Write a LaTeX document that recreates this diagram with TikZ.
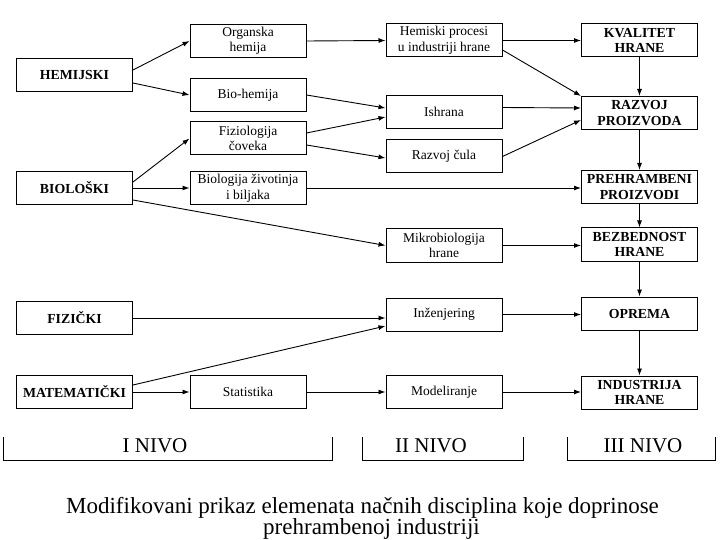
\documentclass[tikz,border=0pt]{standalone}
\usepackage{fontspec}
\setmainfont{Liberation Serif}
\usetikzlibrary{arrows.meta}
\begin{document}
\begin{tikzpicture}[
            x=1pt, y=-1pt,
            box/.style={draw,line width=1pt,minimum width=116pt,minimum height=33pt,inner sep=1pt,align=center,font=\fontsize{13.5}{15.5}\selectfont},
            main box/.style={box,font=\fontsize{13.8}{15.5}\selectfont\bfseries},
            every edge/.style={draw,line width=0.9pt,-{Latex[length=7pt,width=5pt]}},
            level line/.style={draw,line width=0.8pt},
            level label/.style={font=\fontsize{21}{24}\selectfont,anchor=base},
            caption/.style={font=\fontsize{23}{25}\selectfont,anchor=base,inner sep=0pt},
        ]
            \useasboundingbox (0,0) rectangle (720,540);

            % I nivo
            \node[main box] (hem) at (74.5,75) {HEMIJSKI};
            \node[main box] (bio) at (74.5,188) {BIOLOŠKI};
            \node[main box] (fiz) at (74.5,318) {FIZIČKI};
            \node[main box] (mat) at (74.5,392) {MATEMATIČKI};

            \node[box] (org) at (248,41) {Organska\\hemija};
            \node[box] (bioh) at (248,95) {Bio-hemija};
            \node[box] (fiziol) at (248,138.5) {Fiziologija\\čoveka};
            \node[box] (biol) at (248,188) {Biologija životinja\\i biljaka};
            \node[box] (stat) at (248,392) {Statistika};

            % II nivo
            \node[box] (hpro) at (444,40.5) {Hemiski procesi\\u industriji hrane};
            \node[box] (ishr) at (444,112) {Ishrana};
            \node[box] (rcula) at (444,156.5) {Razvoj čula};
            \node[box] (mikro) at (444,245.5) {Mikrobiologija\\hrane};
            \node[box] (inz) at (444,314.5) {Inženjering};
            \node[box] (model) at (444,392) {Modeliranje};

            % III nivo
            \node[main box] (kval) at (639.5,40.5) {KVALITET\\HRANE};
            \node[main box] (razv) at (639.5,113) {RAZVOJ\\PROIZVODA};
            \node[main box] (preh) at (639.5,187) {PREHRAMBENI\\PROIZVODI};
            \node[main box] (bezb) at (639.5,244.5) {BEZBEDNOST\\HRANE};
            \node[main box] (opr) at (639.5,313.5) {OPREMA};
            \node[main box] (ind) at (639.5,392.5) {INDUSTRIJA\\HRANE};

            \path ([yshift=5pt]hem.east) edge (org.west);
            \path ([yshift=-8pt]hem.east) edge (bioh.west);
            \path ([yshift=6pt]bio.east) edge (fiziol.west);
            \path[line width=1.4pt] (bio.east) edge (biol.west);
            \path ([yshift=-12pt]bio.east) edge (mikro.west);
            \path (fiz.east) edge (fiz.east -| inz.west);
            \path ([yshift=7pt]mat.east) edge ([yshift=-11.5pt]inz.west);
            \path (mat.east) edge (stat.west);

            \path (org.east) edge (hpro.west);
            \path (bioh.east) edge ([yshift=4pt]ishr.west);
            \path ([yshift=5.5pt]fiziol.east) edge ([yshift=-5pt]ishr.west);
            \path ([yshift=-6.5pt]fiziol.east) edge ([yshift=-1.5pt]rcula.west);
            \path (biol.east) edge (biol.east -| preh.west);
            \path (stat.east) edge (model.west);

            \path (hpro.east) edge (kval.west);
            \path ([yshift=-9.5pt]hpro.east) edge (razv.north west);
            \path ([yshift=4.5pt]ishr.east) edge ([yshift=5pt]razv.west);
            \path (rcula.east) edge ([yshift=-7pt]razv.west);
            \path (mikro.east) edge (mikro.east -| bezb.west);
            \path (inz.east) edge (inz.east -| opr.west);
            \path (model.east) edge (model.east -| ind.west);

            \path (kval) edge (razv);
            \path (razv) edge (preh);
            \path (preh) edge (bezb);
            \path (bezb) edge (opr);
            \path (opr) edge (ind);

            % nivoi
            \draw[level line] (3,437) -- (3,460) -- (332,460) -- (332,437);
            \draw[level line] (362,437) -- (362,460) -- (523,460) -- (523,437);
            \draw[level line] (567,437) -- (567,460) -- (715,460) -- (715,437);
            \node[level label] (nivo1) at (155,452) {I NIVO};
            \node[level label] (nivo2) at (431,452) {II NIVO};
            \node[level label] (nivo3) at (643,452) {III NIVO};

            \node[caption] (cap1) at (362.5,513) {Modifikovani prikaz elemenata načnih disciplina koje doprinose};
            \node[caption] (cap2) at (371.5,534.5) {prehrambenoj industriji};
        \end{tikzpicture}
\end{document}
